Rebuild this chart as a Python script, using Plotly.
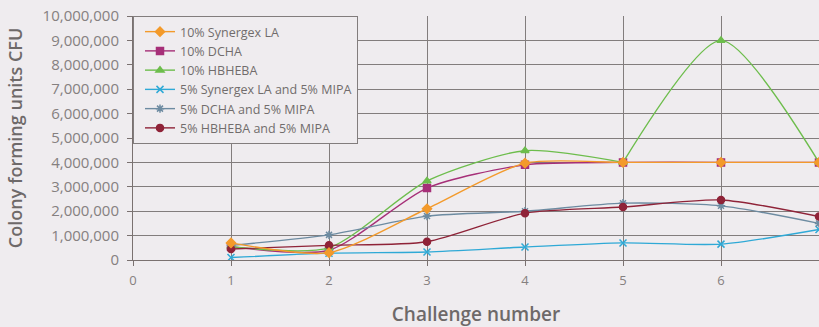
import plotly.graph_objects as go

# Challenge numbers on the x axis
challenges = [1, 2, 3, 4, 5, 6, 7]

# Colony forming units per formulation
synergex_10 = [700000, 300000, 2100000, 3970000, 4000000, 4000000, 4000000]
dcha_10 = [550000, 400000, 2950000, 3900000, 4000000, 4000000, 4000000]
hbheba_10 = [550000, 500000, 3240000, 4480000, 4000000, 9000000, 4000000]
synergex_5_mipa = [100000, 280000, 330000, 530000, 700000, 650000, 1250000]
dcha_5_mipa = [600000, 1030000, 1800000, 2000000, 2330000, 2220000, 1500000]
hbheba_5_mipa = [450000, 600000, 750000, 1920000, 2170000, 2460000, 1780000]

series_names = [
    '10% Synergex LA',
    '10% DCHA',
    '10% HBHEBA',
    '5% Synergex LA and 5% MIPA',
    '5% DCHA and 5% MIPA',
    '5% HBHEBA and 5% MIPA',
]
series_values = [synergex_10, dcha_10, hbheba_10,
                 synergex_5_mipa, dcha_5_mipa, hbheba_5_mipa]
colors = ['#f39a2b', '#a62f78', '#6dbd4c', '#2fa9d6', '#6d8ba1', '#8f2338']
symbols = ['diamond', 'square', 'triangle-up', 'x-thin-open',
           'asterisk-open', 'circle']
# orange drawn last so it sits on top, as in the original
draw_order = [1, 2, 3, 4, 5, 0]

grid = '#827d7d'
axis_col = '#7a7170'
text_col = '#858080'
title_col = '#6e6969'
bg = '#efecef'

fig = go.Figure()
for i in draw_order:
    col = colors[i]
    xs, ys = challenges, series_values[i]
    if i == 2:
        # the HBHEBA curve kinks at challenge 5 in the original: break the
        # spline there so each side is smoothed on its own
        xs = challenges[:5] + [None] + challenges[4:]
        ys = series_values[i][:5] + [None] + series_values[i][4:]
    fig.add_trace(go.Scatter(
        x=xs, y=ys, name=series_names[i],
        mode='lines+markers', legendrank=i + 1, connectgaps=False,
        line=dict(color=col, width=1.4, shape='spline', smoothing=0.7),
        marker=dict(symbol=symbols[i], size=7, color=col,
                    line=dict(color=col, width=1.5)),
    ))

fig.update_layout(
    width=819, height=327,
    margin=dict(l=133, r=0, t=16, b=67),
    paper_bgcolor=bg, plot_bgcolor=bg,
    font=dict(family='Open Sans', color=text_col),
    legend=dict(
        x=0, y=1, xanchor='left', yanchor='top',
        bgcolor=bg, bordercolor=grid, borderwidth=1,
        font=dict(size=12.5, color='#716c6c'),
        tracegroupgap=0, itemwidth=30, indentation=6,
    ),
    showlegend=True,
)
fig.update_xaxes(
    range=[0, 7], dtick=1, showgrid=True, gridcolor=grid, gridwidth=1,
    zeroline=False, showline=True, linecolor=axis_col,
    ticks='outside', ticklen=5, tickcolor=axis_col, automargin=False,
    ticklabelstandoff=3,
    tickfont=dict(size=13, color=text_col),
    title=dict(text='Challenge number', standoff=21,
               font=dict(size=19, color=title_col, weight=600)),
)
fig.update_yaxes(
    range=[0, 10000000], dtick=1000000, tickformat=',d',
    showgrid=True, gridcolor=grid, gridwidth=1, zeroline=False,
    showline=True, linecolor=axis_col,
    ticks='outside', ticklen=5, tickcolor=axis_col, automargin=False,
    ticklabelstandoff=5,
    tickfont=dict(size=15, color=text_col),
    title=dict(text='Colony forming units CFU', standoff=15,
               font=dict(size=18, color=title_col, weight=600)),
)

# drop the default page margin so the figure sits at the window's corner
fig.write_html(
    'out.html',
    config={'displayModeBar': False},
    post_script="document.body.style.margin='0';"
                "document.body.style.background='#efecef';",
)
